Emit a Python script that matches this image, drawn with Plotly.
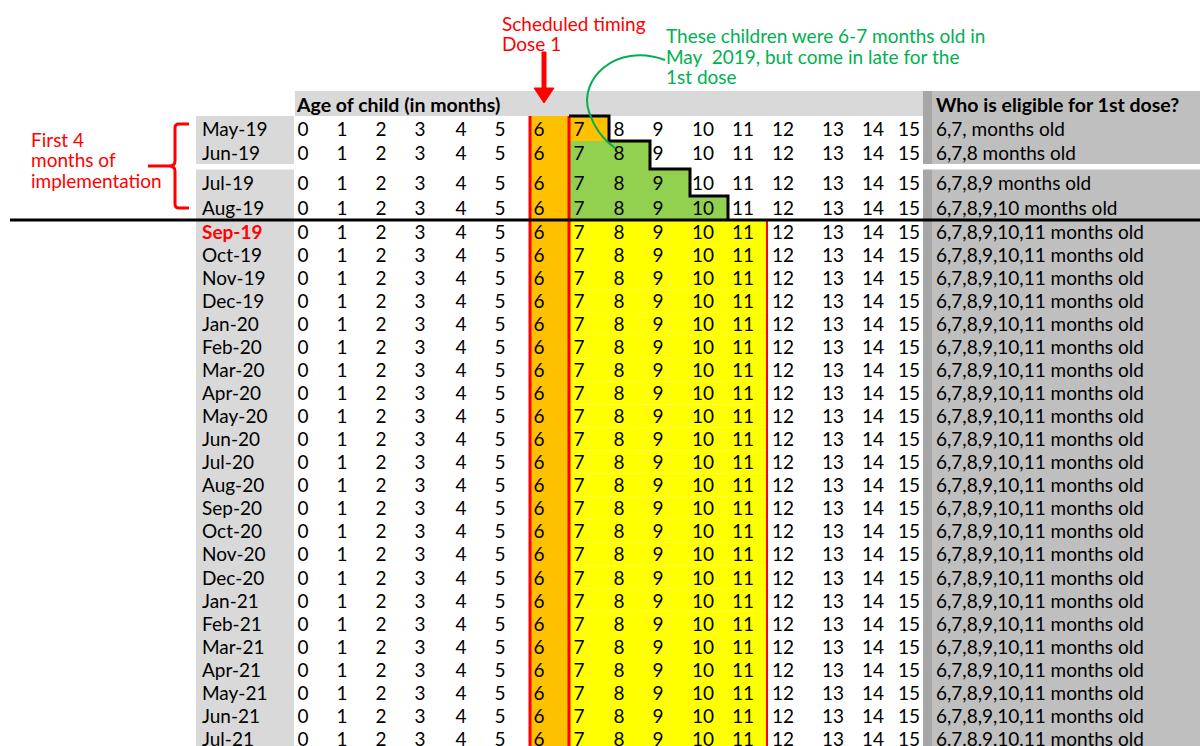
import plotly.graph_objects as go

# rows of the schedule table
months = ["May-19", "Jun-19", "Jul-19", "Aug-19", "Sep-19", "Oct-19", "Nov-19", "Dec-19",
          "Jan-20", "Feb-20", "Mar-20", "Apr-20", "May-20", "Jun-20", "Jul-20", "Aug-20",
          "Sep-20", "Oct-20", "Nov-20", "Dec-20", "Jan-21", "Feb-21", "Mar-21", "Apr-21",
          "May-21", "Jun-21", "Jul-21"]
ages = [0, 1, 2, 3, 4, 5, 6, 7, 8, 9, 10, 11, 12, 13, 14, 15]
oldest_eligible = [7, 8, 9, 10] + [11] * 23
eligible_text = ["6,7, months old", "6,7,8 months old", "6,7,8,9 months old",
                 "6,7,8,9,10 months old"] + ["6,7,8,9,10,11 months old"] * 23
scheduled_age = 6
first_months = 4          # first 4 months of implementation
highlight_month = "Sep-19"

# page geometry (pixels)
FONT = "Lato"
FS = 19
col_x = [303, 342, 381, 420, 461, 500, 539, 579, 619, 658, 703, 743, 783, 833, 873, 909]
col_edges = [295, 322, 361, 400, 440, 481, 530, 569, 609, 650, 690, 728, 767, 808, 853, 891, 923]
top_bands = [(116, 141), (141, 169), (169, 196), (196, 220)]
row_h = 23.05
bands = top_bands + [(220 + row_h * i, 220 + row_h * (i + 1)) for i in range(len(months) - first_months)]
text_y = [129, 153, 183, 208] + [(a + b) / 2 for a, b in bands[first_months:]]
text_y = [y + 2.5 for y in text_y]   # baseline nudge
H = 746

shapes = []
def rect(x0, x1, y0, y1, color):
    shapes.append(dict(type="rect", x0=x0, x1=x1, y0=y0, y1=y1, fillcolor=color,
                       line=dict(width=0), layer="below"))

def line(x0, y0, x1, y1, color, w):
    shapes.append(dict(type="line", x0=x0, y0=y0, x1=x1, y1=y1, line=dict(color=color, width=w)))

def path(d, color, w, fill=None):
    s = dict(type="path", path=d, line=dict(color=color, width=w))
    if fill:
        s["fillcolor"] = fill
    shapes.append(s)

# backgrounds
rect(295, 923, 91, 116, "#D9D9D9")
rect(196, 294, 116, H, "#D9D9D9")
rect(923, 932, 91, H, "#A6A6A6")
rect(932, 1200, 91, H, "#BFBFBF")
rect(196, 294, 164, 169.5, "white")
rect(923, 1200, 164, 169.5, "white")

# scheduled dose column
c6 = ages.index(scheduled_age)
rect(col_edges[c6], col_edges[c6 + 1], 116, H, "#FFC000")

# catch-up cells
for i, (y0, y1) in enumerate(bands):
    right = col_edges[ages.index(oldest_eligible[i]) + 1]
    if i == 0:
        rect(col_edges[c6 + 1], right, y0, y1, "#FFC000")
    elif i < first_months:
        rect(col_edges[c6 + 1], right, y0, y1, "#92D050")
    else:
        rect(col_edges[c6 + 1], right, y0, y1, "#FFFF00")

# red borders
line(col_edges[c6], 116, col_edges[c6], H, "#FF0000", 3)
line(col_edges[c6 + 1], 116, col_edges[c6 + 1], H, "#FF0000", 3)
line(col_edges[ages.index(11) + 1], 220, col_edges[ages.index(11) + 1], H, "#FF0000", 2)

# staircase
stairs = "M %d 116" % col_edges[c6 + 1]
for i in range(first_months):
    xr = col_edges[ages.index(oldest_eligible[i]) + 1]
    stairs += " L %d %s L %d %s" % (xr, bands[i][0], xr, bands[i][1])
path(stairs, "black", 3)

# separator after the first 4 months
line(10, 220, 1200, 220, "black", 3)

# arrow "Scheduled timing"
path("M 542 52 L 546 52 L 546 88 L 554 88 L 544 103 L 534 88 L 542 88 Z", "#FF0000", 1, "#FF0000")
# green arc
path("M 665 60 C 615 42, 578 80, 589 112 C 595 130, 605 141, 615 148", "#00B050", 2)
# red brace
path("M 189 124 L 179 124 Q 175 124 175 128 L 175 161 Q 175 166 169 166 L 148 166 "
     "M 169 166 Q 175 166 175 171 L 175 204 Q 175 208 179 208 L 189 208", "#FF0000", 3)

fig = go.Figure()

# numbers
nx, ny, nt = [], [], []
for i in range(len(months)):
    for j, a in enumerate(ages):
        nx.append(col_x[j])
        ny.append(text_y[i])
        nt.append(str(a))
fig.add_trace(go.Scatter(x=nx, y=ny, text=nt, mode="text", textposition="middle center",
                         textfont=dict(family=FONT, size=FS, color="black"), hoverinfo="skip"))

# month labels
mt = ["<b>%s</b>" % m if m == highlight_month else m for m in months]
mc = ["#FF0000" if m == highlight_month else "black" for m in months]
fig.add_trace(go.Scatter(x=[202] * len(months), y=text_y, text=mt, mode="text",
                         textposition="middle right",
                         textfont=dict(family=FONT, size=FS, color=mc), hoverinfo="skip"))

# eligible text
fig.add_trace(go.Scatter(x=[936] * len(months), y=text_y, text=eligible_text, mode="text",
                         textposition="middle right",
                         textfont=dict(family=FONT, size=FS, color="black"), hoverinfo="skip"))

annotations = []
def label(x, y, txt, color="black", size=FS, bold=False):
    annotations.append(dict(x=x, y=y, text="<b>%s</b>" % txt if bold else txt, showarrow=False,
                            xanchor="left", yanchor="middle", xref="x", yref="y",
                            font=dict(family=FONT, size=size, color=color)))

label(294, 104, "Age of child (in months)", size=19.5, bold=True)
label(934, 104, "Who is eligible for 1st dose?", size=19.5, bold=True)
label(500, 23, "Scheduled timing", "#FF0000")
label(500, 43, "Dose 1", "#FF0000")
label(664, 35, "These children were 6-7 months old in", "#00B050")
label(664, 56, "May  2019, but come in late for the", "#00B050")
label(664, 76, "1st dose", "#00B050")
label(29, 139, "First 4", "#FF0000")
label(29, 159, "months of", "#FF0000")
label(29, 180, "implementation", "#FF0000")

fig.update_layout(
    width=1200, height=746,
    margin=dict(l=0, r=0, t=0, b=0),
    plot_bgcolor="white", paper_bgcolor="white",
    xaxis=dict(range=[0, 1200], visible=False, fixedrange=True),
    yaxis=dict(range=[H, 0], visible=False, fixedrange=True),
    showlegend=False,
    shapes=shapes,
    annotations=annotations,
    hovermode=False,
)

fig.write_html("out.html", config={"displayModeBar": False},
               post_script="document.body.style.margin='0';document.body.style.overflow='hidden';")
